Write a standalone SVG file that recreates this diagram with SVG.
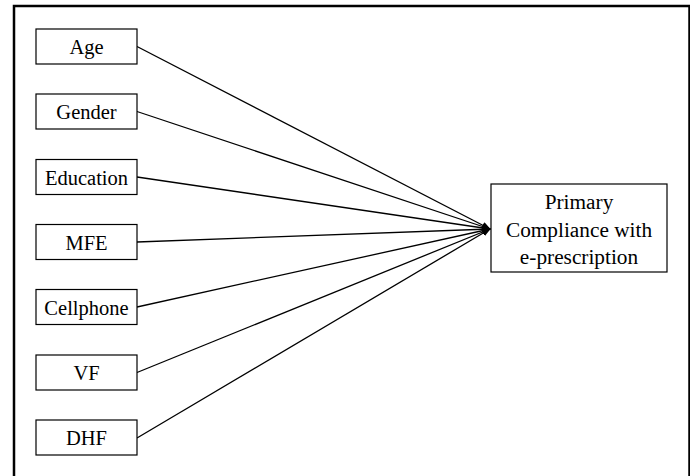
<svg xmlns="http://www.w3.org/2000/svg" width="690" height="476" viewBox="0 0 690 476">
<style>
.box{fill:#fff;stroke:#000;stroke-width:1.2}
.t{font-family:'Liberation Serif',serif;font-size:20.5px;fill:#000;text-anchor:middle}
.tb{font-size:21.3px}
.c{fill:none;stroke:#000;stroke-width:1.3}
</style>
<defs>
<marker id="ah" markerWidth="9" markerHeight="7" refX="8" refY="3.5" orient="auto" markerUnits="userSpaceOnUse">
<path d="M0,0 L9,3.5 L0,7 Z" fill="#000"/>
</marker>
</defs>
<rect x="0" y="0" width="690" height="476" fill="#fff"/>
<rect x="14" y="6" width="675.5" height="480" fill="none" stroke="#000" stroke-width="2.5"/>
<g id="connectors">
<line class="c" x1="137" y1="46.5" x2="490" y2="229" marker-end="url(#ah)"/>
<line class="c" x1="137" y1="111.5" x2="490" y2="229" marker-end="url(#ah)"/>
<line class="c" x1="137" y1="177" x2="490" y2="229" marker-end="url(#ah)"/>
<line class="c" x1="137" y1="242" x2="490" y2="229" marker-end="url(#ah)"/>
<line class="c" x1="137" y1="307" x2="490" y2="229" marker-end="url(#ah)"/>
<line class="c" x1="137" y1="372.5" x2="490" y2="229" marker-end="url(#ah)"/>
<line class="c" x1="137" y1="438" x2="490" y2="229" marker-end="url(#ah)"/>
</g>
<g id="age"><rect class="box" x="36" y="29" width="101" height="35"/><text class="t" x="86.5" y="54.3">Age</text></g>
<g id="gender"><rect class="box" x="36" y="94" width="101" height="35"/><text class="t" x="86.5" y="119.3">Gender</text></g>
<g id="education"><rect class="box" x="36" y="159.5" width="101" height="35"/><text class="t" x="86.5" y="184.8">Education</text></g>
<g id="mfe"><rect class="box" x="36" y="224.5" width="101" height="35"/><text class="t" x="86.5" y="249.8">MFE</text></g>
<g id="cellphone"><rect class="box" x="36" y="289.5" width="101" height="35"/><text class="t" x="86.5" y="314.8">Cellphone</text></g>
<g id="vf"><rect class="box" x="36" y="355" width="101" height="35"/><text class="t" x="86.5" y="380.3">VF</text></g>
<g id="dhf"><rect class="box" x="36" y="420" width="101" height="35"/><text class="t" x="86.5" y="445.3">DHF</text></g>
<g id="primary"><rect class="box" x="491" y="184" width="176" height="88"/>
<text class="t tb" x="579" y="209.3">Primary</text>
<text class="t tb" x="579" y="236.5">Compliance with</text>
<text class="t tb" x="579" y="263.5">e-prescription</text></g>
</svg>
